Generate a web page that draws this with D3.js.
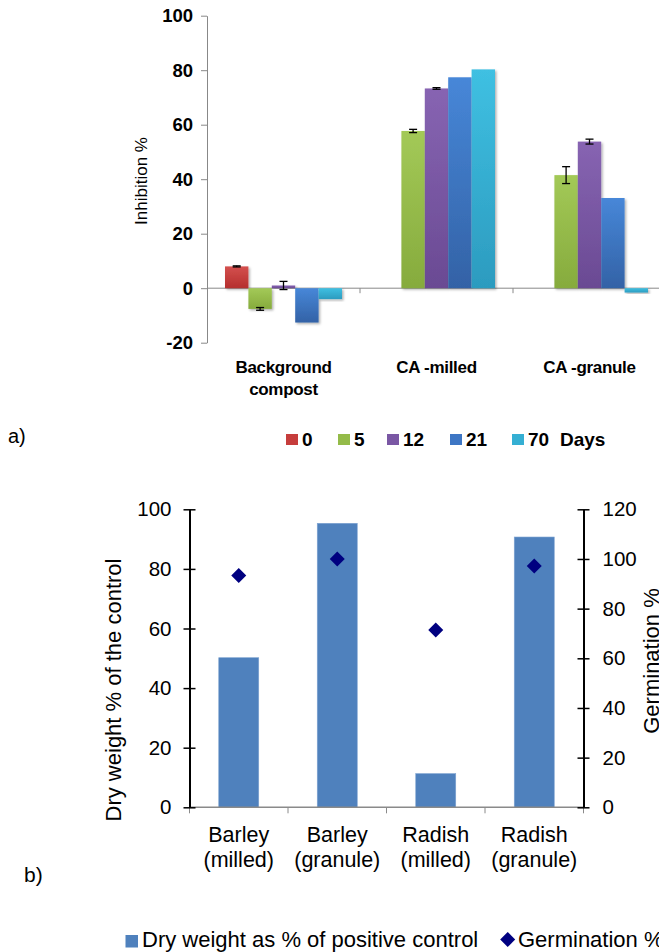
<!DOCTYPE html>
<html><head><meta charset="utf-8">
<script src="https://cdn.jsdelivr.net/npm/d3@7"></script>
<style>body{margin:0;background:#fff}svg{display:block;font-family:"Liberation Sans",Arial,sans-serif}</style>
</head><body>
<script>
// ---------- Chart a) data ----------
const categoriesA = ["Background compost", "CA -milled", "CA -granule"];
const dayLabels = ["0", "5", "12", "21", "70"];
const day0  = [8.0, 0, 0];
const day5  = [-7.6, 57.7, 41.5];
const day12 = [1.0, 73.3, 53.8];
const day21 = [-12.6, 77.4, 33.1];
const day70 = [-4.0, 80.3, -1.6];
const err0  = [0.2, 0, 0];
const err5  = [0.5, 0.6, 3.1];
const err12 = [1.5, 0.3, 0.9];
const err21 = [0, 0, 0];
const err70 = [0, 0, 0];
const ticksA = [-20, 0, 20, 40, 60, 80, 100];

// ---------- Chart b) data ----------
const categoriesB = ["Barley (milled)", "Barley (granule)", "Radish (milled)", "Radish (granule)"];
const dryWeight = [50.2, 95.3, 11.3, 90.7];
const germination = [93.3, 100, 71.4, 97.2];
const ticksLeftB = [0, 20, 40, 60, 80, 100];
const ticksRightB = [0, 20, 40, 60, 80, 100, 120];

const W = 659, H = 952;
const FONT = '"Liberation Sans",Arial,sans-serif';
const svg = d3.select("body").append("svg").attr("width", W).attr("height", H);
const defs = svg.append("defs");

const seriesVals = [day0, day5, day12, day21, day70];
const seriesErr = [err0, err5, err12, err21, err70];
const seriesCol = [
  ["#d4504e", "#b52f2e", "#c63d3c"],
  ["#a3c957", "#86ab3d", "#94bb49"],
  ["#8764b2", "#6a4a93", "#7a57a4"],
  ["#4787d8", "#3362a6", "#3d76c4"],
  ["#3fc0e2", "#2c9bbf", "#35afd3"]
];
seriesCol.forEach((c, i) => {
  const g = defs.append("linearGradient").attr("id", "g" + i)
    .attr("x1", 0).attr("y1", 0).attr("x2", 0).attr("y2", 1);
  g.append("stop").attr("offset", "0%").attr("stop-color", c[0]);
  g.append("stop").attr("offset", "100%").attr("stop-color", c[1]);
});
const f = defs.append("filter").attr("id", "sh").attr("x", "-20%").attr("y", "-20%").attr("width", "140%").attr("height", "140%");
f.append("feDropShadow").attr("dx", 1.5).attr("dy", 1.5).attr("stdDeviation", 1).attr("flood-color", "#000").attr("flood-opacity", 0.3);

// ---------- Chart a) ----------
const yA = d3.scaleLinear().domain([-20, 100]).range([342.7, 15.7]);
const xA = d3.scaleBand().domain(categoriesA).range([207, 666]);
const xA1 = d3.scaleBand().domain(dayLabels).range([18, xA.bandwidth() - 18]);
const grayA = "#888";

const axA = svg.append("g").attr("transform", "translate(207,0)")
  .call(d3.axisLeft(yA).tickValues(ticksA).tickFormat(d => String(d)).tickSize(6).tickSizeOuter(0).tickPadding(8));
axA.select(".domain").attr("stroke", grayA);
axA.selectAll(".tick line").attr("stroke", grayA);
axA.selectAll(".tick text").attr("font-size", 18.5).attr("font-weight", "bold").attr("fill", "#000")
  .attr("font-family", FONT);

// x axis line at 0
svg.append("line").attr("x1", 207).attr("x2", W).attr("y1", yA(0)).attr("y2", yA(0)).attr("stroke", grayA);
categoriesA.slice(1).forEach(c => {
  svg.append("line").attr("x1", xA(c)).attr("x2", xA(c)).attr("y1", yA(0)).attr("y2", yA(0) + 5).attr("stroke", grayA);
});

// bars
seriesVals.forEach((vals, si) => {
  const g = svg.append("g");
  vals.forEach((v, ci) => {
    if (v === 0) return;
    const x = xA(categoriesA[ci]) + xA1(dayLabels[si]);
    g.append("rect").attr("x", x).attr("width", xA1.bandwidth())
      .attr("y", yA(Math.max(0, v))).attr("height", Math.abs(yA(v) - yA(0)))
      .attr("fill", `url(#g${si})`).attr("filter", "url(#sh)");
    const e = seriesErr[si][ci];
    if (e > 0) {
      const cx = x + xA1.bandwidth() / 2;
      const eg = svg.append("g").attr("stroke", "#000").attr("stroke-width", 1.3);
      eg.append("line").attr("x1", cx).attr("x2", cx).attr("y1", yA(v + e)).attr("y2", yA(v - e));
      eg.append("line").attr("x1", cx - 4).attr("x2", cx + 4).attr("y1", yA(v + e)).attr("y2", yA(v + e));
      eg.append("line").attr("x1", cx - 4).attr("x2", cx + 4).attr("y1", yA(v - e)).attr("y2", yA(v - e));
    }
  });
});

// category labels a
categoriesA.forEach(c => {
  const cx = xA(c) + xA.bandwidth() / 2;
  const parts = c === "Background compost" ? ["Background", "compost"] : [c];
  parts.forEach((p, i) => {
    svg.append("text").attr("x", cx).attr("y", 372.5 + i * 22).attr("text-anchor", "middle")
      .attr("font-size", 17).attr("font-weight", "bold").attr("letter-spacing", -0.3).text(p);
  });
});

// y title a
svg.append("text").attr("transform", "translate(147,181) rotate(-90)").attr("text-anchor", "middle")
  .attr("font-size", 17).text("Inhibition %");

// panel label a
svg.append("text").attr("x", 8).attr("y", 443).attr("font-size", 20).text("a)");

// legend a
const legX = [286, 338, 387, 450, 512];
dayLabels.forEach((d, i) => {
  svg.append("rect").attr("x", legX[i]).attr("y", 434).attr("width", 12).attr("height", 11).attr("fill", seriesCol[i][2]);
  svg.append("text").attr("x", legX[i] + 16).attr("y", 446).attr("font-size", 19).attr("font-weight", "bold").text(d);
});
svg.append("text").attr("x", 560).attr("y", 446).attr("font-size", 19).attr("font-weight", "bold").text("Days");

// ---------- Chart b) ----------
const yL = d3.scaleLinear().domain([0, 100]).range([807.3, 509.3]);
const yR = d3.scaleLinear().domain([0, 120]).range([807.3, 509.3]);
const xB = d3.scaleBand().domain(categoriesB).range([189.5, 583.5]);
const barW = 40;

// bars
svg.append("g").selectAll("rect").data(dryWeight).join("rect")
  .attr("x", (d, i) => xB(categoriesB[i]) + xB.bandwidth() / 2 - barW / 2)
  .attr("width", barW)
  .attr("y", d => yL(d)).attr("height", d => yL(0) - yL(d))
  .attr("fill", "#4f81bd").attr("stroke", "#7ea3d1").attr("stroke-width", 0.6);

// x axis
svg.append("line").attr("x1", 189.5).attr("x2", 583.5).attr("y1", yL(0)).attr("y2", yL(0)).attr("stroke", "#8a8a8a").attr("stroke-width", 1.5);
categoriesB.forEach((c, i) => {
  svg.append("line").attr("x1", xB(c)).attr("x2", xB(c)).attr("y1", yL(0)).attr("y2", yL(0) + 6).attr("stroke", "#8a8a8a").attr("stroke-width", 1);
});
svg.append("line").attr("x1", 583.5).attr("x2", 583.5).attr("y1", yL(0)).attr("y2", yL(0) + 6).attr("stroke", "#8a8a8a");

// left axis
const axL = svg.append("g").attr("transform", "translate(189.5,0)")
  .call(d3.axisLeft(yL).tickValues(ticksLeftB).tickSize(6).tickSizeOuter(0).tickPadding(12));
axL.select(".domain").attr("stroke", "#000").attr("stroke-width", 2);
axL.selectAll(".tick line").attr("x1", 6).attr("stroke", "#000").attr("stroke-width", 1.5);
axL.selectAll(".tick text").attr("font-size", 20.5).attr("fill", "#000").attr("font-family", FONT);

// right axis
const axR = svg.append("g").attr("transform", "translate(583.5,0)")
  .call(d3.axisRight(yR).tickValues(ticksRightB).tickSize(6).tickSizeOuter(0).tickPadding(13));
axR.select(".domain").attr("stroke", "#000").attr("stroke-width", 2);
axR.selectAll(".tick line").attr("x1", -6).attr("stroke", "#000").attr("stroke-width", 1.5);
axR.selectAll(".tick text").attr("font-size", 20.5).attr("fill", "#000").attr("font-family", FONT);

// diamonds
const dia = s => `M0,${-s}L${s},0L0,${s}L${-s},0Z`;
svg.append("g").selectAll("path").data(germination).join("path")
  .attr("transform", (d, i) => `translate(${xB(categoriesB[i]) + xB.bandwidth() / 2},${yR(d)})`)
  .attr("d", dia(7.5)).attr("fill", "#000080");

// category labels b
categoriesB.forEach(c => {
  const cx = xB(c) + xB.bandwidth() / 2;
  const sp = c.indexOf(" ");
  [c.slice(0, sp), c.slice(sp + 1)].forEach((p, i) => {
    svg.append("text").attr("x", cx).attr("y", 842 + i * 25).attr("text-anchor", "middle")
      .attr("font-size", 21.5).text(p);
  });
});

// axis titles b
svg.append("text").attr("transform", "translate(121,690) rotate(-90)").attr("text-anchor", "middle")
  .attr("font-size", 22).text("Dry weight % of the control");
svg.append("text").attr("transform", "translate(659,661) rotate(-90)").attr("text-anchor", "middle")
  .attr("font-size", 22).text("Germination %");

// panel label b
svg.append("text").attr("x", 24).attr("y", 882).attr("font-size", 21).text("b)");

// legend b
svg.append("rect").attr("x", 125.5).attr("y", 935).attr("width", 12.5).attr("height", 12.5).attr("fill", "#4f81bd");
svg.append("text").attr("x", 142).attr("y", 946.7).attr("font-size", 22).text("Dry weight as % of positive control");
svg.append("path").attr("transform", "translate(507.7,939.5)").attr("d", dia(7.5)).attr("fill", "#000080");
svg.append("text").attr("x", 518).attr("y", 946.7).attr("font-size", 22).text("Germination %");
</script>
</body></html>
